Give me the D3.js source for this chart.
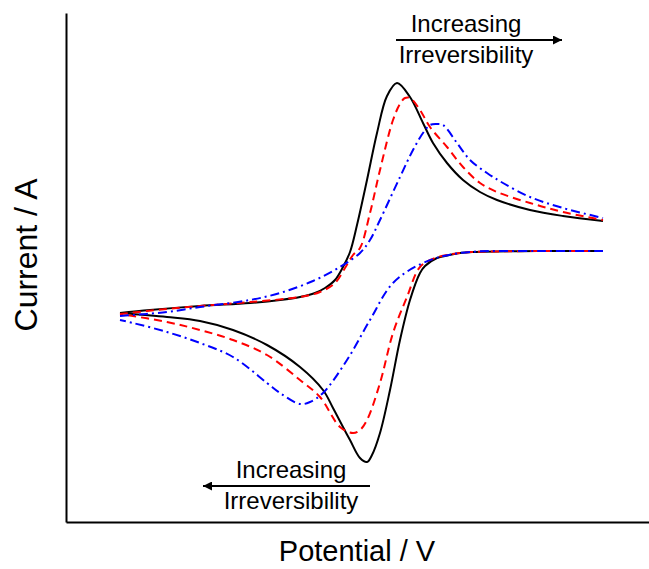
<!DOCTYPE html>
<html><head><meta charset="utf-8">
<script src="https://cdn.jsdelivr.net/npm/d3@7/dist/d3.min.js"></script>
<style>
body{margin:0;background:#fff}
svg{display:block}
text{font-family:"Liberation Sans",Arial,Helvetica,sans-serif;fill:#000}
</style>
</head><body>
<svg id="chart" width="649" height="569"></svg>
<script>
// ---- data (potential in mV, current in µA, arbitrary origin) ----
const potentialDomain = [-54, 529];
const currentDomain = [-20.9, 30.0];

// forward (anodic) sweeps
const reversibleFwdE = [0,30,80,130,160,180,195,205,215,223,230,237,247,257,267,277,290,303,313,327,343,360,377,410,443,483];
const reversibleFwdI = [0,0.3,0.7,1.0,1.3,1.6,2.0,2.5,3.3,4.6,6.1,8.8,13.3,18.0,21.7,23.0,21.6,19.0,17.0,15.0,13.3,12.1,11.3,10.3,9.7,9.2];
const quasiFwdE = [0,47,80,130,180,200,215,225,233,240,250,260,273,280,285,290,300,310,327,343,360,377,410,443,483];
const quasiFwdI = [-0.1,0.4,0.7,1.1,1.6,2.1,3.0,4.5,5.8,6.5,10.0,14.3,19.3,20.9,21.5,21.5,20.3,18.6,16.6,14.6,13.0,12.1,11.0,10.1,9.3];
const irreversibleFwdE = [0,47,80,130,160,193,220,240,250,260,280,293,303,310,316,323,337,350,367,383,410,443,483];
const irreversibleFwdI = [-0.3,0.1,0.6,1.3,2.0,3.2,4.6,6.0,7.3,9.3,13.6,16.3,18.0,18.8,18.9,18.8,17.0,15.3,14.0,13.0,11.6,10.5,9.5];

// reverse (cathodic) sweeps
const reversibleRevE = [483,420,353,340,325,317,305,300,290,280,270,260,252,247,240,230,223,213,203,180,147,113,80,47,0];
const reversibleRevI = [6.2,6.2,6.1,6.0,5.7,5.5,4.7,4.0,1.3,-2.7,-7.7,-12.0,-14.2,-14.9,-14.5,-12.7,-11.4,-9.5,-7.7,-5.4,-3.2,-1.7,-0.8,-0.4,0];
const quasiRevE = [483,420,353,340,315,300,287,273,260,247,240,233,220,200,180,147,113,80,47,0];
const quasiRevI = [6.2,6.2,6.1,6.0,5.5,4.6,1.6,-2.0,-7.0,-10.7,-11.7,-12.0,-11.4,-8.4,-6.7,-4.2,-2.7,-1.7,-0.9,-0.1];
const irreversibleRevE = [483,420,340,303,273,250,227,203,190,180,160,147,113,80,47,13,0];
const irreversibleRevI = [6.2,6.2,6.0,5.0,3.0,-0.7,-4.7,-8.0,-8.9,-9.1,-8.0,-7.0,-4.4,-3.0,-1.9,-1.0,-0.7];

const seriesNames = ["reversible","quasi","irreversible"];
const seriesColors = ["#000000","#ff0000","#0000ff"];
const seriesDash = [null,"8,5","9,4,2,4"];

const annotationLines = ["Increasing","Irreversibility"];
const xLabel = "Potential / V";
const yLabel = "Current / A";

// ---- drawing ----
const svg = d3.select("#chart");
const margin = {left:66, right:0, top:13, bottom:47};
const W = 649, H = 569;
const x = d3.scaleLinear().domain(potentialDomain).range([margin.left, W - margin.right]);
const y = d3.scaleLinear().domain(currentDomain).range([H - margin.bottom, margin.top]);

// axes (no ticks)
svg.append("g").attr("transform",`translate(0,${H - margin.bottom})`)
  .call(d3.axisBottom(x).tickValues([]).tickSizeOuter(0))
  .select(".domain").attr("stroke","#000").attr("stroke-width",2);
svg.append("g").attr("transform",`translate(${margin.left},0)`)
  .call(d3.axisLeft(y).tickValues([]).tickSizeOuter(0))
  .select(".domain").attr("stroke","#000").attr("stroke-width",2);

const series = [
  {fwd:[reversibleFwdE, reversibleFwdI], rev:[reversibleRevE, reversibleRevI]},
  {fwd:[quasiFwdE, quasiFwdI], rev:[quasiRevE, quasiRevI]},
  {fwd:[irreversibleFwdE, irreversibleFwdI], rev:[irreversibleRevE, irreversibleRevI]}
];
const line = d3.line().x(d=>x(d[0])).y(d=>y(d[1])).curve(d3.curveCatmullRom.alpha(0.5));
series.forEach((s,k)=>{
  [s.fwd, s.rev].forEach(seg=>{
    const pts = seg[0].map((e,i)=>[e, seg[1][i]]);
    svg.append("path").datum(pts)
      .attr("class", seriesNames[k])
      .attr("d", line)
      .attr("fill","none")
      .attr("stroke", seriesColors[k])
      .attr("stroke-width", 2)
      .attr("stroke-dasharray", seriesDash[k])
      .attr("stroke-linejoin","round");
  });
});

// arrow marker
const defs = svg.append("defs");
defs.append("marker").attr("id","arr").attr("viewBox","0 0 10 10")
  .attr("refX",10).attr("refY",5).attr("markerWidth",14).attr("markerHeight",9)
  .attr("markerUnits","userSpaceOnUse").attr("orient","auto")
  .append("path").attr("d","M0,0 L10,5 L0,10 Z").attr("fill","#000");

// annotations (positions in potential/current units)
function annotation(cx, cy, fromE, toE){
  const g = svg.append("g");
  g.append("text").attr("x", x(cx)).attr("y", y(cy)-8).attr("text-anchor","middle")
    .attr("font-size",24).text(annotationLines[0]);
  g.append("line").attr("x1",x(fromE)).attr("x2",x(toE)).attr("y1",y(cy)).attr("y2",y(cy))
    .attr("stroke","#000").attr("stroke-width",2).attr("marker-end","url(#arr)");
  g.append("text").attr("x", x(cx)).attr("y", y(cy)+23).attr("text-anchor","middle")
    .attr("font-size",24).text(annotationLines[1]);
}
annotation(346, 27.3, 276, 442);
annotation(171, -17.3, 250, 83);

// axis labels
svg.append("text").attr("x", 357).attr("y", 561).attr("text-anchor","middle")
  .attr("font-size",29).text(xLabel);
svg.append("text").attr("transform","translate(37,255) rotate(-90)").attr("text-anchor","middle")
  .attr("font-size",32).text(yLabel);
</script>
</body></html>
